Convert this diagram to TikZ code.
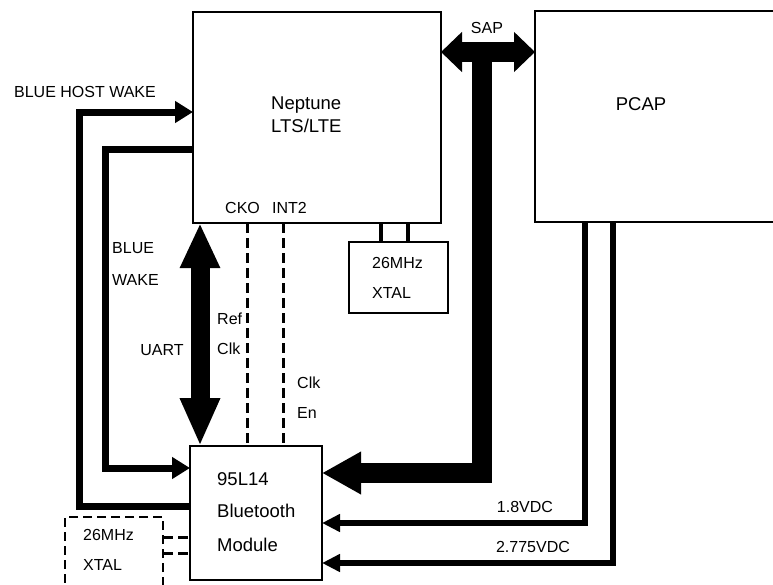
\documentclass[tikz,border=0pt]{standalone}
\usepackage{fontspec}
\setmainfont{Liberation Sans}
\usetikzlibrary{arrows.meta}
\begin{document}
\begin{tikzpicture}[x=1pt,y=-1pt,
  blk/.style={draw,line width=2.6pt,inner sep=0pt,outer sep=0pt},
  dashblk/.style={blk,dash pattern=on 9pt off 5pt},
  lbl/.style={inner sep=0pt,font=\fontsize{16}{16}\selectfont,anchor=base west},
  lblc/.style={inner sep=0pt,font=\fontsize{16}{16}\selectfont,anchor=base},
  big/.style={inner sep=0pt,font=\fontsize{18.5}{18.5}\selectfont,anchor=base west},
  bigc/.style={inner sep=0pt,font=\fontsize{18.5}{18.5}\selectfont,anchor=base},
  bus/.style={line width=20pt,line join=miter},
  wake/.style={line width=7pt,line join=miter,-{Triangle[length=18pt,width=21pt]}},
  wakeplain/.style={line width=7pt,line join=miter},
  pwr/.style={line width=6pt,line join=miter,-{Triangle[length=18pt,width=17pt]}},
  sig/.style={line width=3pt,dash pattern=on 10pt off 5pt},
  xtl/.style={line width=4pt}]
\useasboundingbox (0,0) rectangle (773,584);
\fill[white] (0,0) rectangle (773,584);
\clip (0,0) rectangle (773,584);

% boxes
\node[blk,minimum width=248pt,minimum height=211pt] (nep) at (317,117.5) {};
\node[blk,minimum width=260pt,minimum height=211pt] (pcap) at (665,116.5) {};
\node[blk,minimum width=132pt,minimum height=134pt] (bt) at (256,513) {};
\node[blk,minimum width=99pt,minimum height=71pt] (xt) at (398.5,277.5) {};
\node[dashblk,minimum width=98pt,minimum height=83pt] (dx) at (114,558.5) {};

% box texts
\node[big] (neptxt) at (271,109) {Neptune};
\node[big] (ltetxt) at (271,132) {LTS/LTE};
\node[bigc] (pcaptxt) at (641,110.6) {PCAP};
\node[big] (bt1) at (217,485.6) {95L14};
\node[big] (bt2) at (217,517.6) {Bluetooth};
\node[big] (bt3) at (217,551.6) {Module};
\node[lbl] (xt1) at (372,268.7) {26MHz};
\node[lbl] (xt2) at (372,298.7) {XTAL};
\node[lbl] (dx1) at (83,540.7) {26MHz};
\node[lbl] (dx2) at (83,570.7) {XTAL};

% coordinates
\coordinate (sapT) at (482,52);
\coordinate (busC) at (482,473);
\coordinate (hw) at (79,112);
\coordinate (bw) at (105,149);
\coordinate (ux) at (200,0);
\coordinate (ckx) at (247,0);
\coordinate (inx) at (283,0);
\coordinate (x1) at (381,0);
\coordinate (x2) at (408,0);
\coordinate (v1) at (585,0);
\coordinate (v2) at (613,0);
\coordinate (y18) at (0,523);
\coordinate (y27) at (0,563);
\coordinate (d1) at (0,537);
\coordinate (d2) at (0,553);

% SAP bus
\draw[bus,{Triangle[length=21pt,width=39pt]}-{Triangle[length=21pt,width=39pt]}] (nep.east |- sapT) -- (pcap.west |- sapT);
\draw[bus,-{Triangle[length=39pt,width=40pt]}] (sapT) -- (busC) -- (busC -| bt.east);

% UART
\draw[line width=19pt,{Triangle[length=45pt,width=37pt]}-{Triangle[length=48pt,width=37pt]}] (nep.south -| ux) -- (bt.north -| ux);

% Ref clk / clk en
\draw[sig] (nep.south -| ckx) -- (bt.north -| ckx);
\draw[sig] (nep.south -| inx) -- (bt.north -| inx);

% crystal
\draw[xtl] (nep.south -| x1) -- (xt.north -| x1);
\draw[xtl] (nep.south -| x2) -- (xt.north -| x2);
\draw[sig] (dx.east |- d1) -- (bt.west |- d1);
\draw[sig] (dx.east |- d2) -- (bt.west |- d2);

% wake lines
\draw[wake] ([yshift=7pt]bt.west) -| (hw) -- (hw -| nep.west);
\draw[wake] (bw -| nep.west) -- (bw) |- ([yshift=45pt]bt.west);

% power
\draw[pwr] (pcap.south -| v1) |- (bt.east |- y18);
\draw[pwr] (pcap.south -| v2) |- (bt.east |- y27);

% labels
\node[lblc] (lsap) at (487,33.7) {SAP};
\node[lblc] (lhw) at (85,97.7) {BLUE HOST WAKE};
\node[lbl] (lbw1) at (112,253.7) {BLUE};
\node[lbl] (lbw2) at (112,285.7) {WAKE};
\node[lblc] (luart) at (162,355.7) {UART};
\node[lbl] (lck) at (225,213.7) {CKO};
\node[lbl] (lint) at (272,213.7) {INT2};
\node[lbl] (lref1) at (217,324.7) {Ref};
\node[lbl] (lref2) at (217,354.7) {Clk};
\node[lbl] (len1) at (297,388.7) {Clk};
\node[lbl] (len2) at (297,418.7) {En};
\node[lblc] (l18) at (525,512.7) {1.8VDC};
\node[lblc] (l27) at (533,552.7) {2.775VDC};
\end{tikzpicture}
\end{document}
